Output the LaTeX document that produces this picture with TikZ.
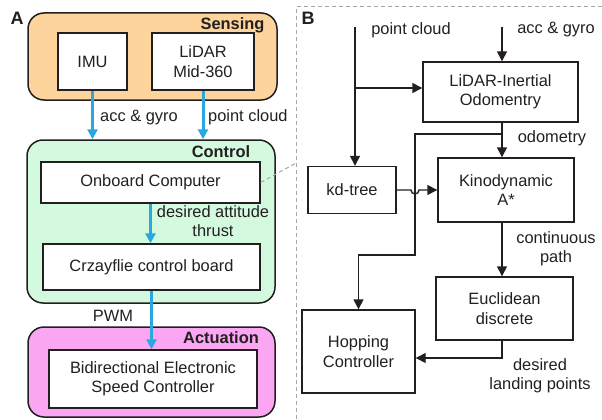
\documentclass[tikz,border=0pt]{standalone}
\usepackage{fontspec}
\setmainfont{Liberation Sans}
\usetikzlibrary{arrows.meta, positioning}
\definecolor{sensefill}{HTML}{FDD49C}
\definecolor{ctrlfill}{HTML}{D3FADF}
\definecolor{actfill}{HTML}{FAA6F3}
\definecolor{flowblue}{HTML}{2AA7DF}
\definecolor{ink}{HTML}{231F20}

\begin{document}
\begin{tikzpicture}
	% style
	[x=1pt, y=-1pt,
	every node/.style={font=\fontsize{16.4}{19.5}\selectfont, text=ink},
	group/.style={rectangle, rounded corners=16pt, draw=ink, line width=1.5pt},
	block/.style={rectangle, draw=ink, fill=white, line width=1.4pt, align=center, inner sep=0pt},
	title/.style={font=\fontsize{16.4}{19.5}\selectfont\bfseries},
	panel/.style={font=\fontsize{18}{20}\selectfont\bfseries},
	label_text/.style={align=center, inner sep=0pt},
	blue_flow/.style={draw=flowblue, line width=3pt, -{Triangle[length=10pt, width=10pt]}},
	flow/.style={draw=ink, line width=1.4pt, -{Triangle[length=10pt, width=10pt]}},
	split/.style={draw=gray!70, line width=1pt, dash pattern=on 4pt off 3pt}]
	\useasboundingbox (0,0) rectangle (602,420);

	% panel A
	\node [panel] (label_a) at (17,18) {A};
	\node [group, fill=sensefill, minimum width=249pt, minimum height=87pt] (sensing) at (152.5,56.5) {};
	\node [group, fill=ctrlfill, minimum width=248pt, minimum height=163pt] (control) at (151,221.5) {};
	\node [group, fill=actfill, minimum width=247pt, minimum height=90pt] (actuation) at (151.5,372) {};
	\node [title] (sensing_title) at (232.5,25) {Sensing};
	\node [title] (control_title) at (221,152) {Control};
	\node [title] (actuation_title) at (221,338) {Actuation};

	\node [block, minimum width=69pt, minimum height=57pt] (imu) at (92.5,61.5) {IMU};
	\node [block, minimum width=102pt, minimum height=57pt] (lidar) at (203,61.5) {LiDAR\\Mid-360};
	\node [block, minimum width=219pt, minimum height=41pt] (onboard) at (150.5,182.5) {Onboard Computer};
	\node [block, minimum width=217pt, minimum height=46pt] (crazyflie) at (151.5,267) {Crzayflie control board};
	\node [block, minimum width=208pt, minimum height=58pt] (esc) at (153,379) {Bidirectional Electronic\\Speed Controller};

	\node [label_text, anchor=west] (acc_a) at (100,118) {acc \& gyro};
	\node [label_text, anchor=west] (cloud_a) at (208,117) {point cloud};
	\node [label_text] (attitude) at (213,221) {desired attitude\\thrust};
	\node [label_text] (pwm) at (113,316) {PWM};

	\path[blue_flow] (imu.south) -- (imu.south |- control.north);
	\path[blue_flow] (lidar.south) -- (lidar.south |- control.north);
	\path[blue_flow] (onboard.south) -- (onboard.south |- crazyflie.north);
	\path[blue_flow] (crazyflie.south) -- (crazyflie.south |- esc.north);

	% panel B
	\coordinate (corner_b) at (296,7);
	\draw [split] (602,7) -- (corner_b) -- (296,420);
	\draw [split] (onboard.east) -- (296,163);
	\node [panel] (label_b) at (308,18) {B};

	\node [block, minimum width=155pt, minimum height=60pt] (lio) at (500.5,92) {LiDAR-Inertial\\Odomentry};
	\node [block, minimum width=88pt, minimum height=47pt] (kdtree) at (352,190) {kd-tree};
	\node [block, minimum width=136pt, minimum height=64pt] (kino) at (506,190) {Kinodynamic\\A*};
	\node [block, minimum width=137pt, minimum height=63pt] (euclid) at (504.5,308.5) {Euclidean\\discrete};
	\node [block, minimum width=113pt, minimum height=83pt] (hopping) at (358.5,351.5) {Hopping\\Controller};

	\coordinate (cloud_in) at (355,27);
	\coordinate (imu_in) at (502,27);
	\coordinate (odo) at (502,134);
	\node [label_text] (cloud_b) at (411,30) {point cloud};
	\node [label_text] (acc_b) at (556,30) {acc \& gyro};
	\node [label_text] (odometry) at (552,138) {odometry};
	\node [label_text] (continuous) at (556,249) {continuous\\path};
	\node [label_text] (landing) at (540,376) {desired\\landing points};

	\path[flow] (cloud_in) -- (cloud_in |- kdtree.north);
	\path[flow] (cloud_in |- 0,88) -- (lio.west |- 0,88);
	\path[flow] (imu_in) -- (imu_in |- lio.north);
	\path[flow] (odo |- lio.south) -- (odo |- kino.north);
	\path[flow] (odo) -| (415,255) -| (hopping.north);
	\path[flow] (kdtree.east) -- (411,190) arc (180:0:4) -- (kino.west);
	\path[flow] (odo |- kino.south) -- (odo |- euclid.north);
	\path[flow] (odo |- euclid.south) |- ([yshift=-6.5pt]hopping.east);
\end{tikzpicture}
\end{document}
